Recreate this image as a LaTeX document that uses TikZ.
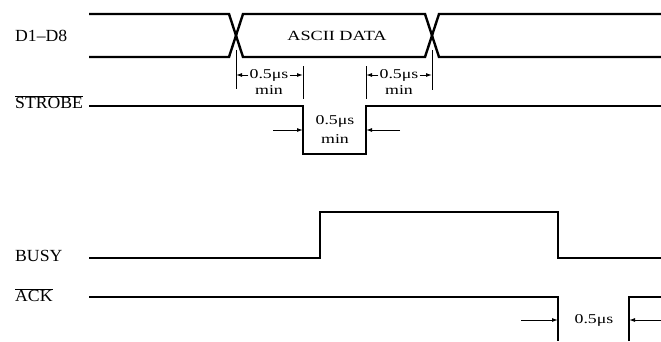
\documentclass[tikz,border=0pt]{standalone}
\usepackage{fontspec}
\setmainfont{Liberation Serif}
\newfontfamily\sigfont[FakeStretch=1.04]{Liberation Serif}
\newfontfamily\datafont[FakeStretch=1.3]{Liberation Serif}
\newfontfamily\dimfont[FakeStretch=1.32]{Liberation Serif}
\usetikzlibrary{arrows.meta}
\begin{document}
\begin{tikzpicture}[x=1pt,y=-1pt,
  sig/.style={line width=2.4pt,line join=miter},
  tick/.style={line width=1pt},
  dimarr/.style={line width=1pt,-{Latex[length=6pt,width=4pt]}},
  siglabel/.style={anchor=west,inner sep=0pt,font=\sigfont\fontsize{17}{19}\selectfont},
  datalabel/.style={inner sep=0pt,font=\datafont\fontsize{14}{16}\selectfont},
  dimlabel/.style={inner sep=1pt,font=\dimfont\fontsize{13.5}{15}\selectfont}]
\useasboundingbox (0,0) rectangle (661,341);
% signal labels
\node[siglabel] (lD) at (15,36) {D1–D8};
\node[siglabel] (lS) at (15,102) {$\overline{\hbox{STROBE}}$};
\node[siglabel] (lB) at (15,256) {BUSY};
\node[siglabel] (lA) at (15,295) {$\overline{\hbox{ACK}}$};
% D1-D8
\coordinate (dT0) at (89,14);  \coordinate (dB0) at (89,57);
\coordinate (c1tl) at (229,14); \coordinate (c1bl) at (229,57);
\coordinate (c1tr) at (243,14); \coordinate (c1br) at (243,57);
\coordinate (c2tl) at (425,14); \coordinate (c2bl) at (425,57);
\coordinate (c2tr) at (439,14); \coordinate (c2br) at (439,57);
\coordinate (dT1) at (661,14); \coordinate (dB1) at (661,57);
\draw[sig] (dT0) -- (c1tl) -- (c1br) -- (c2bl) -- (c2tr) -- (dT1);
\draw[sig] (dB0) -- (c1bl) -- (c1tr) -- (c2tl) -- (c2br) -- (dB1);
\node[datalabel] (ascii) at (337,36) {ASCII DATA};
% STROBE
\coordinate (s0) at (89,106); \coordinate (s1) at (303,106); \coordinate (s2) at (303,154);
\coordinate (s3) at (366,154); \coordinate (s4) at (366,106); \coordinate (s5) at (661,106);
\draw[sig] (s0) -- (s1) -- (s2) -- (s3) -- (s4) -- (s5);
% BUSY
\coordinate (b0) at (89,258); \coordinate (b1) at (320,258); \coordinate (b2) at (320,212);
\coordinate (b3) at (558,212); \coordinate (b4) at (558,258); \coordinate (b5) at (661,258);
\draw[sig] (b0) -- (b1) -- (b2) -- (b3) -- (b4) -- (b5);
% ACK
\coordinate (a0) at (89,297); \coordinate (a1) at (558,297); \coordinate (a2) at (558,341);
\coordinate (a3) at (629,341); \coordinate (a4) at (629,297); \coordinate (a5) at (661,297);
\draw[sig] (a0) -- (a1) -- (a2);
\draw[sig] (a3) -- (a4) -- (a5);
% dimension 1
\coordinate (t1a) at (236,50); \coordinate (t1b) at (236,89);
\coordinate (t2a) at (303,66); \coordinate (t2b) at (303,99);
\draw[tick] (t1a) -- (t1b);
\draw[tick] (t2a) -- (t2b);
\node[dimlabel] (d1) at (269,75) {0.5μs};
\node[dimlabel] (d1m) at (269,90) {min};
\draw[dimarr] (d1.west) -- (d1.west -| t1a);
\draw[dimarr] (d1.east) -- (d1.east -| t2a);
% dimension 2
\coordinate (t3a) at (366,66); \coordinate (t3b) at (366,99);
\coordinate (t4a) at (432,50); \coordinate (t4b) at (432,90);
\draw[tick] (t3a) -- (t3b);
\draw[tick] (t4a) -- (t4b);
\node[dimlabel] (d2) at (399,75) {0.5μs};
\node[dimlabel] (d2m) at (399,90) {min};
\draw[dimarr] (d2.west) -- (d2.west -| t3a);
\draw[dimarr] (d2.east) -- (d2.east -| t4a);
% strobe pulse width
\node[dimlabel] (d3) at (335,121) {0.5μs};
\node[dimlabel] (d3m) at (335,139) {min};
\coordinate (p1) at (273,130); \coordinate (p1e) at (303,130);
\coordinate (p2) at (400,130); \coordinate (p2e) at (366,130);
\draw[dimarr] (p1) -- (p1e);
\draw[dimarr] (p2) -- (p2e);
% ack pulse width
\node[dimlabel] (d4) at (594,320) {0.5μs};
\coordinate (q1) at (521,320); \coordinate (q1e) at (558,320);
\coordinate (q2) at (661,320); \coordinate (q2e) at (629,320);
\draw[dimarr] (q1) -- (q1e);
\draw[dimarr] (q2) -- (q2e);
\end{tikzpicture}
\end{document}
